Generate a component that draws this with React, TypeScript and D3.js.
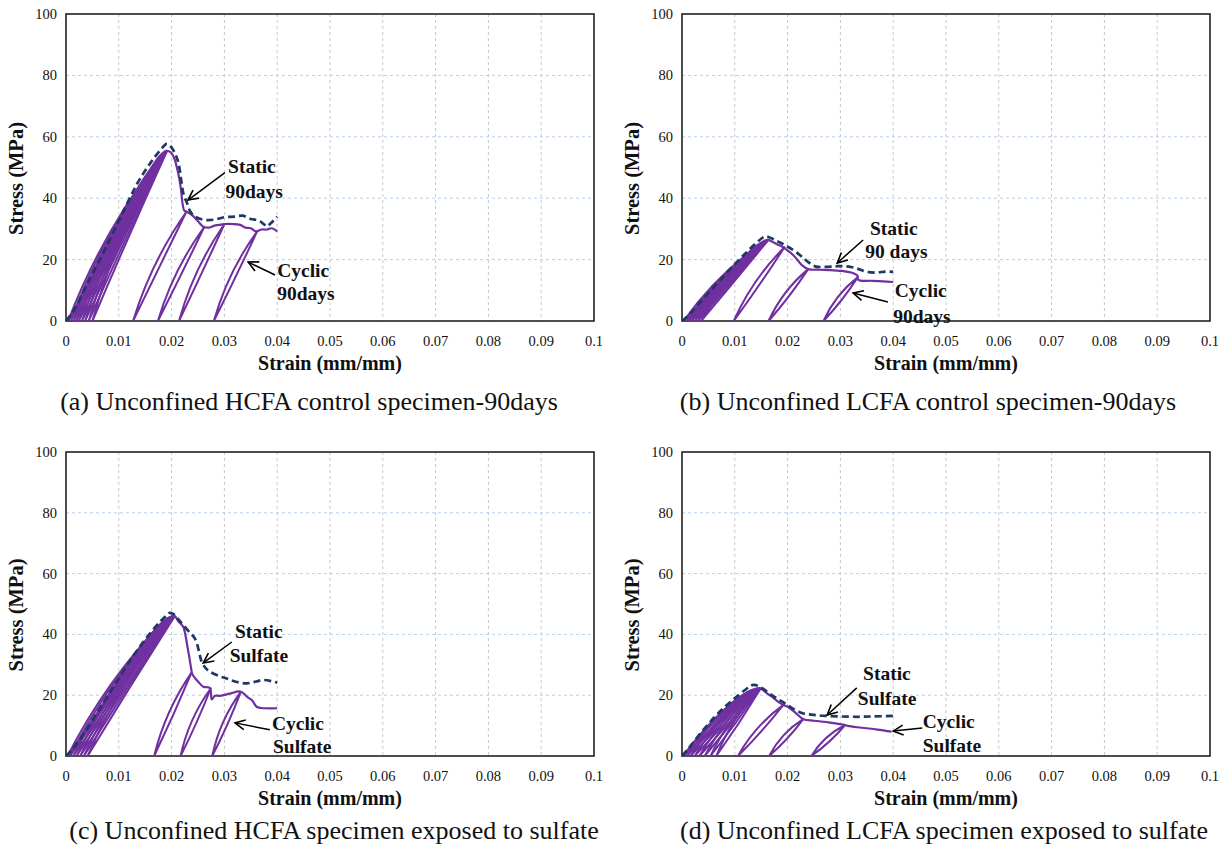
import React from 'react';
import * as d3 from 'd3';

type Pt = [number, number];
type Loop = [number, number, number]; // residual strain, return strain, return stress

const strainTicks = [0, 0.01, 0.02, 0.03, 0.04, 0.05, 0.06, 0.07, 0.08, 0.09, 0.1];
const strainTickLabels = ['0', '0.01', '0.02', '0.03', '0.04', '0.05', '0.06', '0.07', '0.08', '0.09', '0.1'];
const stressTicks = [0, 20, 40, 60, 80, 100];
const stressTickLabels = ['0', '20', '40', '60', '80', '100'];

const xTitle = 'Strain (mm/mm)';
const yTitle = 'Stress (MPa)';

// ---------- Panel (a) ----------
const captionA = '(a) Unconfined HCFA control specimen-90days';
const staticA: Pt[] = [
  [0, 0], [0.001, 2.2], [0.002, 5], [0.004, 12], [0.0064, 20], [0.009, 29], [0.0115, 38],
  [0.0137, 45.4], [0.016, 51.5], [0.0178, 55.5], [0.0191, 57.7], [0.02, 56.5], [0.0208, 54],
  [0.0213, 51.5], [0.0218, 46], [0.0223, 41], [0.0229, 38.5], [0.0236, 35.5], [0.0245, 34],
  [0.026, 33], [0.028, 33], [0.03, 33.8], [0.032, 34], [0.0335, 34.3], [0.035, 33.2],
  [0.0365, 32.8], [0.0375, 31.5], [0.038, 30.8], [0.039, 32.2], [0.04, 34],
];
const cyclicA: Pt[] = [
  [0, 0], [0.001, 1.8], [0.002, 4.3], [0.004, 11], [0.0064, 19], [0.009, 27.8], [0.0115, 36.5],
  [0.0137, 43.5], [0.016, 49.5], [0.0178, 53.8], [0.019, 55.4], [0.0198, 55], [0.0205, 53],
  [0.021, 50], [0.0215, 46], [0.0218, 42.5], [0.0221, 38], [0.0224, 36], [0.023, 35.5],
  [0.024, 34.3], [0.025, 32.5], [0.026, 30.7], [0.027, 30.4], [0.028, 31], [0.029, 31.3],
  [0.03, 31.6], [0.0315, 31.6], [0.033, 31.3], [0.034, 30.4], [0.035, 30.2], [0.036, 29.2],
  [0.037, 29.8], [0.038, 29.8], [0.039, 30.2], [0.04, 29.2],
];
const loopsA: Loop[] = [
  [0.0004, 0.0175, 52.5], [0.0009, 0.018, 53.8], [0.0014, 0.0184, 54.5], [0.0019, 0.0187, 55],
  [0.0024, 0.0189, 55.2], [0.003, 0.019, 55.3], [0.0036, 0.019, 55.4], [0.0043, 0.0191, 55.4],
  [0.005, 0.0191, 55.3],
  [0.0127, 0.0228, 35.6], [0.0174, 0.0262, 30.7], [0.0214, 0.03, 31.6], [0.028, 0.0362, 29.2],
];

// ---------- Panel (b) ----------
const captionB = '(b) Unconfined LCFA control specimen-90days';
const staticB: Pt[] = [
  [0, 0], [0.001, 1.5], [0.002, 3.3], [0.004, 7.2], [0.006, 11], [0.008, 14.8], [0.01, 18.5],
  [0.012, 22], [0.014, 25.3], [0.015, 26.8], [0.0157, 27.5], [0.0165, 27.3], [0.0175, 26.5],
  [0.0185, 25.6], [0.0195, 24.7], [0.021, 23.2], [0.0223, 21.5], [0.0232, 20.2], [0.0239, 19.2],
  [0.0252, 17.8], [0.027, 17.6], [0.029, 17.8], [0.0303, 17.9], [0.032, 17.6], [0.0335, 16.9],
  [0.035, 16], [0.037, 15.8], [0.0385, 16.1], [0.04, 16],
];
const cyclicB: Pt[] = [
  [0, 0], [0.001, 1.3], [0.002, 3], [0.004, 6.8], [0.006, 10.5], [0.008, 14.2], [0.01, 17.8],
  [0.012, 21.2], [0.014, 24.4], [0.0155, 26], [0.0163, 26.4], [0.017, 25.9], [0.018, 25],
  [0.0191, 24.1], [0.0199, 23.1], [0.021, 21.6], [0.022, 19.6], [0.0227, 18.2], [0.0239, 16.9],
  [0.026, 16.7], [0.028, 16.6], [0.0303, 16.3], [0.032, 15.8], [0.0332, 14.8], [0.0334, 13.4],
  [0.036, 13.1], [0.038, 12.9], [0.04, 12.7],
];
const loopsB: Loop[] = [
  [0.0003, 0.0148, 25], [0.0008, 0.0153, 25.6], [0.0013, 0.0157, 26], [0.0018, 0.016, 26.2],
  [0.0024, 0.0162, 26.3], [0.003, 0.0163, 26.4], [0.0036, 0.0163, 26.3],
  [0.0098, 0.0194, 24], [0.0164, 0.0239, 16.9], [0.0268, 0.0333, 14.3],
];

// ---------- Panel (c) ----------
const captionC = '(c) Unconfined HCFA specimen exposed to sulfate';
const staticC: Pt[] = [
  [0, 0], [0.001, 1.8], [0.002, 4], [0.004, 9], [0.006, 14.5], [0.008, 20], [0.01, 25.5],
  [0.012, 31], [0.014, 36], [0.016, 40.5], [0.018, 44.5], [0.019, 46.2], [0.0197, 47.1],
  [0.0205, 46.5], [0.0215, 44.5], [0.0225, 42.5], [0.0235, 40.5], [0.0243, 39], [0.0248, 37],
  [0.0253, 33.5], [0.0257, 31], [0.0265, 28.8], [0.0273, 27.7], [0.029, 26.3], [0.0304, 25.5],
  [0.032, 24.5], [0.0342, 23.9], [0.036, 24.5], [0.0373, 25], [0.039, 24.6], [0.04, 24.1],
];
const cyclicC: Pt[] = [
  [0, 0], [0.001, 1.6], [0.002, 3.7], [0.004, 8.6], [0.006, 14], [0.008, 19.5], [0.01, 25],
  [0.012, 30.3], [0.014, 35.3], [0.016, 39.8], [0.018, 43.6], [0.0195, 45.6], [0.0206, 46],
  [0.0212, 44.5], [0.0222, 42.5], [0.0226, 40], [0.0229, 37], [0.0233, 33], [0.0237, 28.8],
  [0.0239, 27], [0.0245, 25.5], [0.025, 24.5], [0.026, 22.8], [0.0268, 22.6], [0.0273, 22.3],
  [0.0276, 18.6], [0.0282, 19.8], [0.0292, 19.8], [0.031, 20.5], [0.033, 21.2], [0.0345, 19.2],
  [0.0352, 18.4], [0.0361, 16.2], [0.037, 15.8], [0.04, 15.7],
];
const loopsC: Loop[] = [
  [0.0003, 0.0185, 44.5], [0.0008, 0.0192, 45.3], [0.0014, 0.0197, 45.7], [0.002, 0.0201, 45.9],
  [0.0027, 0.0204, 46], [0.0034, 0.0205, 46], [0.0041, 0.0206, 46],
  [0.0167, 0.0238, 27.5], [0.0217, 0.0274, 22.2], [0.0277, 0.0331, 21.1],
];

// ---------- Panel (d) ----------
const captionD = '(d) Unconfined LCFA specimen exposed to sulfate';
const staticD: Pt[] = [
  [0, 0], [0.001, 2], [0.002, 4.2], [0.004, 8.5], [0.006, 12.5], [0.008, 16], [0.01, 19],
  [0.012, 21.8], [0.013, 23], [0.0135, 23.4], [0.0145, 23], [0.0157, 21.7], [0.017, 20],
  [0.0183, 18.6], [0.0195, 17.3], [0.021, 15.6], [0.023, 14], [0.025, 13.5], [0.0271, 13.2],
  [0.03, 13], [0.0333, 12.9], [0.036, 13], [0.04, 13.2],
];
const cyclicD: Pt[] = [
  [0, 0], [0.001, 1.8], [0.002, 3.9], [0.004, 8], [0.006, 11.8], [0.008, 15.2], [0.01, 18.2],
  [0.012, 20.6], [0.0135, 21.8], [0.0148, 22.3], [0.0158, 21], [0.017, 19.5], [0.0181, 18],
  [0.0192, 16.8], [0.02, 16.2], [0.0215, 14.2], [0.023, 12.1], [0.025, 11.6], [0.028, 11],
  [0.0309, 10.2], [0.0314, 9.9], [0.034, 9.3], [0.037, 8.7], [0.0397, 8],
];
const loopsD: Loop[] = [
  [0.0003, 0.0125, 21.2], [0.0009, 0.013, 21.6], [0.0016, 0.0135, 21.9], [0.0024, 0.0139, 22.1],
  [0.0033, 0.0143, 22.2], [0.0043, 0.0146, 22.3], [0.0054, 0.0148, 22.3], [0.0065, 0.0149, 22.2],
  [0.0106, 0.0192, 16.8], [0.0165, 0.023, 12.2], [0.0245, 0.0309, 10.2],
];

// ---------- annotations ----------
type Note = { lines: string[]; at: Pt; to2: Pt; from: Pt; to: Pt };
const notesA: Note[] = [
  { lines: ['Static', '90days'], at: [0.0307, 48.2], to2: [0.0302, 40.1], from: [0.0301, 48.3], to: [0.0231, 39.4] },
  { lines: ['Cyclic', '90days'], at: [0.04, 14.3], to2: [0.04, 6.8], from: [0.0396, 15], to: [0.0345, 19.2] },
];
const notesB: Note[] = [
  { lines: ['Static', '90 days'], at: [0.0356, 28], to2: [0.0347, 20.5], from: [0.0343, 26.4], to: [0.0294, 18.9] },
  { lines: ['Cyclic', '90days'], at: [0.0403, 7.8], to2: [0.04, -0.7], from: [0.039, 6.2], to: [0.0324, 9.1] },
];
const notesC: Note[] = [
  { lines: ['Static', 'Sulfate'], at: [0.032, 38.8], to2: [0.031, 30.9], from: [0.0314, 37.5], to: [0.026, 30.6] },
  { lines: ['Cyclic', 'Sulfate'], at: [0.039, 8.6], to2: [0.0392, 1.0], from: [0.0386, 8.6], to: [0.032, 10.9] },
];
const notesD: Note[] = [
  { lines: ['Static', 'Sulfate'], at: [0.0343, 25], to2: [0.0333, 16.8], from: [0.0331, 22.4], to: [0.0275, 13.5] },
  { lines: ['Cyclic', 'Sulfate'], at: [0.0456, 9.2], to2: [0.0456, 1.3], from: [0.0455, 9.2], to: [0.04, 8.2] },
];

const PURPLE = '#7030A0';
const NAVY = '#1F3864';
const SERIF = '"Liberation Serif", "Times New Roman", "DejaVu Serif", serif';

type PanelDef = {
  key: string; caption: string; stat: Pt[]; cyc: Pt[]; loops: Loop[]; notes: Note[];
  left: number; top: number; bottom: number; captionX: number; captionY: number;
};

const panels: PanelDef[] = [
  { key: 'a', caption: captionA, stat: staticA, cyc: cyclicA, loops: loopsA, notes: notesA, left: 66, top: 14, bottom: 321, captionX: 309, captionY: 410 },
  { key: 'b', caption: captionB, stat: staticB, cyc: cyclicB, loops: loopsB, notes: notesB, left: 682, top: 14, bottom: 321, captionX: 928, captionY: 410 },
  { key: 'c', caption: captionC, stat: staticC, cyc: cyclicC, loops: loopsC, notes: notesC, left: 66, top: 452, bottom: 756, captionX: 334, captionY: 839 },
  { key: 'd', caption: captionD, stat: staticD, cyc: cyclicD, loops: loopsD, notes: notesD, left: 682, top: 452, bottom: 756, captionX: 944, captionY: 839 },
];

const PLOT_W = 528;

function loopPath(x: d3.ScaleLinear<number, number>, y: d3.ScaleLinear<number, number>, l: Loop): string {
  const [r, px, py] = l;
  const x0 = x(r), y0 = y(0), x1 = x(px), y1 = y(py);
  const mx = (x0 + x1) / 2, my = (y0 + y1) / 2;
  const dx = x1 - x0, dy = y1 - y0;
  const len = Math.hypot(dx, dy);
  const nx = -dy / len, ny = dx / len; // points right/down
  const w = Math.max(2.4, 0.017 * len);
  const b = 0.02 * len;
  const c1x = mx + nx * 2 * (w - b), c1y = my + ny * 2 * (w - b);
  const c2x = mx + nx * 2 * (-w - b), c2y = my + ny * 2 * (-w - b);
  const p = d3.path();
  p.moveTo(x0, y0);
  p.quadraticCurveTo(c1x, c1y, x1, y1);
  p.quadraticCurveTo(c2x, c2y, x0, y0);
  return p.toString();
}

function Panel({ d }: { d: PanelDef }) {
  const x = d3.scaleLinear().domain([0, 0.1]).range([d.left, d.left + PLOT_W]);
  const y = d3.scaleLinear().domain([0, 100]).range([d.bottom, d.top]);
  const line = d3.line<Pt>().x((p) => x(p[0])).y((p) => y(p[1])).curve(d3.curveCatmullRom.alpha(0.5));
  const cx = d.left + PLOT_W / 2;
  const cy = (d.top + d.bottom) / 2;
  return (
    <g>
      {strainTicks.slice(1, -1).map((t) => (
        <line key={'vx' + t} x1={x(t)} x2={x(t)} y1={d.top} y2={d.bottom} stroke="#c9c9c9" strokeWidth={1} strokeDasharray="3,3" />
      ))}
      {stressTicks.slice(1, -1).map((t) => (
        <line key={'hy' + t} x1={d.left} x2={d.left + PLOT_W} y1={y(t)} y2={y(t)} stroke="#b7d0e8" strokeWidth={1} strokeDasharray="3,3" />
      ))}
      <rect x={d.left} y={d.top} width={PLOT_W} height={d.bottom - d.top} fill="none" stroke="#222" strokeWidth={1.6} />
      {d.loops.map((l, i) => (
        <path key={'l' + i} d={loopPath(x, y, l)} fill="none" stroke={PURPLE} strokeWidth={2} strokeLinejoin="round" />
      ))}
      <path d={line(d.cyc) || ''} fill="none" stroke={PURPLE} strokeWidth={2.2} strokeLinejoin="round" />
      <path d={line(d.stat) || ''} fill="none" stroke={NAVY} strokeWidth={2.7} strokeDasharray="7,4" />
      {strainTicks.map((t, i) => (
        <text key={'xt' + t} x={x(t)} y={d.bottom + 25} textAnchor="middle" fontFamily={SERIF} fontSize={14.5} fill="#111">{strainTickLabels[i]}</text>
      ))}
      {stressTicks.map((t, i) => (
        <text key={'yt' + t} x={d.left - 9} y={y(t)} dy="0.35em" textAnchor="end" fontFamily={SERIF} fontSize={14.5} fill="#111">{stressTickLabels[i]}</text>
      ))}
      <text x={cx} y={d.bottom + 49} textAnchor="middle" fontFamily={SERIF} fontWeight="bold" fontSize={20} fill="#111">{xTitle}</text>
      <text transform={`translate(${d.left - 50},${cy + 11}) rotate(-90)`} textAnchor="middle" dy="0.35em" fontFamily={SERIF} fontWeight="bold" fontSize={20.5} fill="#111">{yTitle}</text>
      {d.notes.map((n, i) => (
        <g key={'n' + i}>
          <line x1={x(n.from[0])} y1={y(n.from[1])} x2={x(n.to[0])} y2={y(n.to[1])} stroke="#000" strokeWidth={1.5} markerEnd="url(#arrowhead)" />
          <text x={x(n.at[0])} y={y(n.at[1])} fontFamily={SERIF} fontWeight="bold" fontSize={19.5} fill="#111">{n.lines[0]}</text>
          <text x={x(n.to2[0])} y={y(n.to2[1])} fontFamily={SERIF} fontWeight="bold" fontSize={19.5} fill="#111">{n.lines[1]}</text>
        </g>
      ))}
      <text x={d.captionX} y={d.captionY} textAnchor="middle" fontFamily={SERIF} fontSize={26} fill="#111">{d.caption}</text>
    </g>
  );
}

export default function App() {
  return (
    <svg width={1227} height={850} style={{ position: 'absolute', left: 0, top: 0, background: '#fff' }}>
      <defs>
        <marker id="arrowhead" viewBox="0 0 12 12" refX="11" refY="6" markerWidth="12" markerHeight="12" markerUnits="userSpaceOnUse" orient="auto">
          <path d="M1,1 L11,6 L1,11" fill="none" stroke="#000" strokeWidth={1.6} />
        </marker>
      </defs>
      <rect x={0} y={0} width={1227} height={850} fill="#fff" />
      {panels.map((p) => (
        <Panel key={p.key} d={p} />
      ))}
    </svg>
  );
}
